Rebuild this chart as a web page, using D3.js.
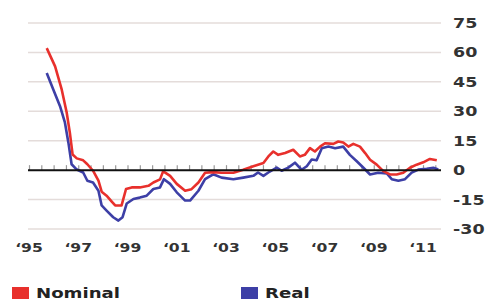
<!DOCTYPE html>
<html>
<head>
<meta charset="utf-8">
<script src="https://cdn.jsdelivr.net/npm/d3@7"></script>
<style>
    body { margin: 0; background: #fff; }
    #chart { width: 486px; height: 302px; }
    text { font-family: 'DejaVu Sans', Verdana, sans-serif; font-weight: bold; fill: #333; }
</style>
</head>
<body>
<div id="chart"></div>
<script>
//Datos (años decimales y % anual)
const nominalYears = [1995.72, 1996.06, 1996.33, 1996.53, 1996.66, 1996.77, 1996.94, 1997.2, 1997.37, 1997.6, 1997.82, 1997.95, 1998.15, 1998.36, 1998.5, 1998.76, 1998.94, 1999.17, 1999.5, 1999.85, 2000.05, 2000.32, 2000.45, 2000.5, 2000.73, 2001.0, 2001.34, 2001.6, 2001.88, 2002.15, 2002.48, 2002.82, 2003.3, 2003.7, 2004.11, 2004.52, 2004.72, 2004.92, 2005.12, 2005.4, 2005.73, 2006.0, 2006.2, 2006.41, 2006.61, 2006.82, 2007.02, 2007.36, 2007.56, 2007.76, 2007.97, 2008.17, 2008.44, 2008.65, 2008.85, 2009.12, 2009.39, 2009.66, 2009.93, 2010.2, 2010.47, 2010.74, 2011.01, 2011.28, 2011.56];
const nominalValues = [62.2, 52.9, 41, 29.4, 19, 8, 6, 5, 3, -0.3, -5.4, -11, -13, -16, -18, -18, -9.6, -8.8, -8.8, -8, -6.3, -4.7, -0.5, -1, -2.9, -7, -10.5, -9.7, -6.3, -1.3, -1, -1.3, -1.3, 0.2, 2, 3.6, 7, 9.5, 7.8, 8.7, 10.4, 7, 7.8, 11.2, 9.5, 12, 13.7, 13.4, 14.6, 14.1, 12, 13.4, 12, 8.7, 5.3, 2.8, -0.5, -2.2, -2.2, -1.3, 1.2, 2.8, 4, 5.7, 5];

const realYears = [1995.72, 1995.99, 1996.26, 1996.46, 1996.6, 1996.73, 1996.94, 1997.2, 1997.37, 1997.6, 1997.82, 1997.95, 1998.15, 1998.42, 1998.63, 1998.8, 1998.97, 1999.24, 1999.5, 1999.78, 2000.05, 2000.32, 2000.48, 2000.73, 2001.0, 2001.34, 2001.54, 2001.88, 2002.15, 2002.48, 2002.82, 2003.3, 2003.7, 2004.11, 2004.3, 2004.52, 2004.72, 2005.06, 2005.26, 2005.53, 2005.8, 2006.07, 2006.28, 2006.48, 2006.68, 2006.89, 2007.16, 2007.43, 2007.76, 2008.03, 2008.31, 2008.58, 2008.85, 2009.18, 2009.53, 2009.73, 2010.0, 2010.27, 2010.54, 2010.81, 2011.15, 2011.42, 2011.62];
const realValues = [49.5, 41, 32.6, 24.2, 14, 3, 0.3, -1.2, -5.4, -6.3, -10.5, -18, -20.6, -24, -25.7, -24, -17, -14.7, -14, -13, -9.6, -8.8, -4.6, -7, -11.3, -15.5, -15.5, -10.5, -4.6, -2.1, -3.8, -4.6, -3.8, -2.9, -1.2, -2.9, -1.2, 1.3, -0.3, 1.3, 3.8, 0.2, 2, 5.4, 5, 11.2, 12, 11.2, 12, 7.8, 4.5, 1.2, -2.2, -1.3, -1.7, -4.6, -5.4, -4.6, -1.3, 0.3, 0.7, 1.2, 0.3];

const yTicks = [-30, -15, 0, 15, 30, 45, 60, 75];
const xTickYears = [1995, 1997, 1999, 2001, 2003, 2005, 2007, 2009, 2011];
const xTickLabels = ['‘95', '‘97', '‘99', '‘01', '‘03', '‘05', '‘07', '‘09', '‘11'];
const seriesNames = ['Nominal', 'Real'];

//Colores fijos
const COLOR_NOMINAL = '#e8302c',
COLOR_REAL = '#3d3fa6';

let svg = d3.select('#chart')
    .append('svg')
        .attr('width', 486)
        .attr('height', 302);

let x = d3.scaleLinear()
    .domain([1995, 2011])
    .range([29, 423]);

let y = d3.scaleLinear()
    .domain([-30, 75])
    .range([229, 23]);

let plotLeft = 28, plotRight = 441;

//Rejilla
svg.append('g')
    .selectAll('line')
    .data(yTicks.filter(function(d) { return d != 0; }))
    .enter()
    .append('line')
    .attr('x1', plotLeft)
    .attr('x2', plotRight)
    .attr('y1', function(d) { return y(d); })
    .attr('y2', function(d) { return y(d); })
    .attr('stroke', '#e4dcda')
    .attr('stroke-width', 1.5);

//Marcas sobre el eje cero (semestrales)
let halfYears = d3.range(1995, 2011.8, 0.5);
svg.append('g')
    .attr('transform', 'translate(0,' + y(0) + ')')
    .call(d3.axisTop(x).tickValues(halfYears).tickSize(5).tickFormat(''))
    .call(function(g) { g.select('.domain').remove(); })
    .call(function(g) { g.selectAll('.tick line').attr('stroke', '#999').attr('stroke-width', 1.2); });

//Líneas
let line = d3.line()
    .x(function(d) { return x(d[0]); })
    .y(function(d) { return y(d[1]); });

svg.append('path')
    .datum(realYears.map(function(d, i) { return [d, realValues[i]]; }))
    .attr('d', line)
    .attr('fill', 'none')
    .attr('stroke', COLOR_REAL)
    .attr('stroke-width', 2.6)
    .attr('stroke-linejoin', 'round');

svg.append('path')
    .datum(nominalYears.map(function(d, i) { return [d, nominalValues[i]]; }))
    .attr('d', line)
    .attr('fill', 'none')
    .attr('stroke', COLOR_NOMINAL)
    .attr('stroke-width', 2.6)
    .attr('stroke-linejoin', 'round');

//Eje cero
svg.append('line')
    .attr('x1', plotLeft)
    .attr('x2', plotRight)
    .attr('y1', y(0))
    .attr('y2', y(0))
    .attr('stroke', '#111')
    .attr('stroke-width', 2);

//Etiquetas eje Y
svg.append('g')
    .selectAll('text')
    .data(yTicks)
    .enter()
    .append('text')
    .attr('transform', function(d) { return 'translate(453,' + (y(d) + 5) + ') scale(1.25,1)'; })
    .style('font-size', '14px')
    .text(function(d) { return d < 0 ? '-' + Math.abs(d) : d; });

//Etiquetas eje X
svg.append('g')
    .selectAll('text')
    .data(xTickYears)
    .enter()
    .append('text')
    .attr('transform', function(d) { return 'translate(' + x(d) + ',252) scale(1.2,1)'; })
    .attr('text-anchor', 'middle')
    .style('font-size', '13px')
    .text(function(d, i) { return xTickLabels[i]; });

//Leyenda
let legendX = [12, 241];
let legendColors = [COLOR_NOMINAL, COLOR_REAL];
let legend = svg.append('g')
    .selectAll('g')
    .data(seriesNames)
    .enter()
    .append('g')
    .attr('transform', function(d, i) { return 'translate(' + legendX[i] + ',287)'; });

legend.append('rect')
    .attr('width', 17)
    .attr('height', 12)
    .attr('fill', function(d, i) { return legendColors[i]; });

legend.append('text')
    .attr('transform', 'translate(24,11) scale(1.25,1)')
    .style('font-size', '14.5px')
    .style('fill', '#222')
    .text(function(d) { return d; });
</script>
</body>
</html>
